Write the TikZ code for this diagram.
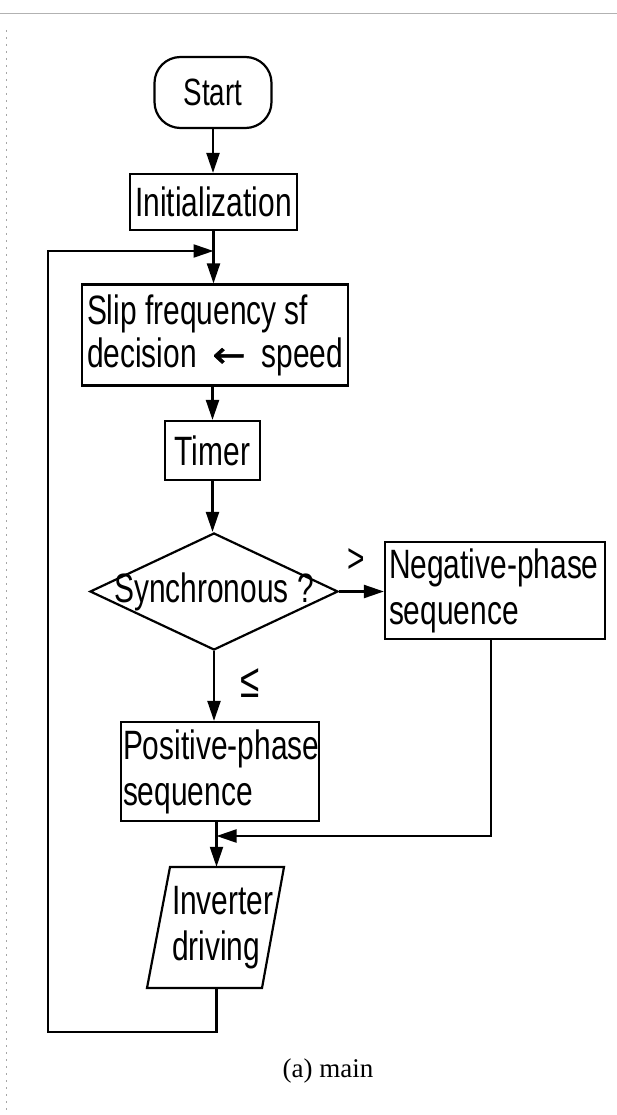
\documentclass[tikz,border=0pt]{standalone}
\usepackage{fontspec}
\usetikzlibrary{shapes.geometric,arrows.meta,calc}
\newfontfamily\flowfont{Liberation Sans}[FakeStretch=0.73]
\newfontfamily\capfont{Liberation Serif}
\newfontfamily\arrfont{DejaVu Sans}[FakeStretch=1.1, FakeBold=1.5]
\begin{document}
\begin{tikzpicture}[x=1pt,y=-1pt,
  ff/.style={font=\flowfont\fontsize{41}{46}\selectfont},
  box/.style={ff, draw, line width=2.2pt, inner sep=0pt},
  arr/.style={line width=2.2pt, -{Triangle[length=20pt,width=13pt]}},
  ln/.style={line width=2.2pt}]
\useasboundingbox (0,0) rectangle (617,1115);
% scan borders
\draw[gray!60, line width=0.8pt] (0,13) -- (617,13);
\draw[gray!70, line width=0.7pt, dash pattern=on 2pt off 5pt] (6,30) -- (6,1115);
% nodes
\node[box, rounded corners=26pt, minimum width=117pt, minimum height=71pt,
      font=\flowfont\fontsize{38}{44}\selectfont] (start) at (213,92.5) {Start};
\node[box, minimum width=167pt, minimum height=56pt] (init) at (213.5,202) {Initialization};
\node[box, minimum width=266pt, minimum height=101pt, align=left,
      font=\flowfont\fontsize{41}{43}\selectfont] (slip) at (215,335)
      {Slip frequency sf\\\hbox to 256pt{decision\hfill{\arrfont\fontsize{36}{43}\selectfont ←}\hfill speed}};
\node[box, minimum width=95pt, minimum height=59pt] (timer) at (212.5,450.5) {Timer};
\node[draw, diamond, line width=2.2pt, minimum width=248pt, minimum height=117pt,
      inner sep=0pt, label={[ff, name=decl]center:Synchronous ?}] (dec) at (214,591.5) {};
\node[box, minimum width=220pt, minimum height=97pt, text width=212pt, align=left]
      (neg) at (495,590.5) {\mbox{Negative-phase}\\sequence};
\node[box, minimum width=198pt, minimum height=99pt, text width=194pt, align=left]
      (pos) at (220,771.5) {\mbox{Positive-phase}\\sequence};
\draw[ln] (170,867) -- (284,867) -- (262,988) -- (147,988) -- cycle;
\node[ff, inner sep=0pt, minimum height=121pt, text width=96pt, align=left]
      (inv) at (220,927.5) {Inverter\\driving};
\node[ff] (gt) at (356,561) {>};
\node[font=\flowfont\fontsize{48}{50}\selectfont] (le) at (250,683) {≤};
\node[font=\capfont\fontsize{27}{30}\selectfont] (cap) at (328,1071) {(a) main};
% coordinates
\coordinate (mrg) at (216.5,836);
\coordinate (lb) at (48,1032);
\coordinate (lt) at (48,251);
% connectors
\draw[arr] (start.south) -- (start.south |- init.north);
\draw[arr] (init.south) -- (init.south |- slip.north);
\draw[arr] (slip.south -| timer.north) -- (timer.north);
\draw[arr] (timer.south) -- (timer.south |- dec.north);
\draw[arr] (dec.east) -- (dec.east -| neg.west);
\draw[arr] (dec.south) -- (dec.south |- pos.north);
\draw[arr] ([xshift=-4pt]neg.south) |- (mrg);
\draw[arr] (pos.south -| mrg) -- (mrg |- inv.north);
\draw[arr] (mrg |- inv.south) |- (lb) -- (lt) -- (init.south |- lt);
\end{tikzpicture}
\end{document}
